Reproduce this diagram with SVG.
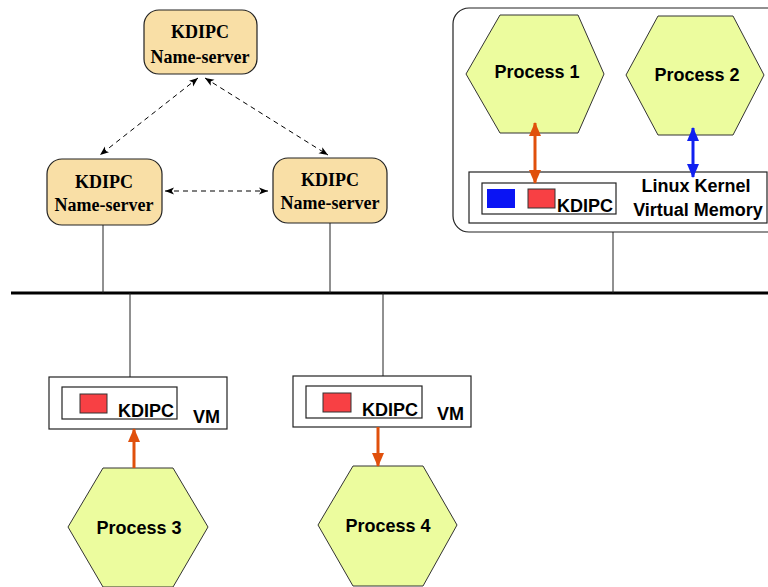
<svg xmlns="http://www.w3.org/2000/svg" width="768" height="587" viewBox="0 0 768 587">
  <defs>
    <style>
      .ns { fill: #f9dfa6; stroke: #222; stroke-width: 1.2; }
      .hex { fill: #ecfc9e; stroke: #333; stroke-width: 1; }
      .box { fill: #fff; stroke: #222; stroke-width: 1.2; }
      .serif { font-family: "Liberation Serif", "Times New Roman", serif; font-weight: bold; font-size: 18px; fill: #000; text-anchor: middle; }
      .sans { font-family: "Liberation Sans", Arial, sans-serif; font-weight: bold; font-size: 18px; fill: #000; }
      .mid { text-anchor: middle; }
      .dash { stroke: #000; stroke-width: 1; fill: none; stroke-dasharray: 5 4; }
      .wire { stroke: #222; stroke-width: 1; fill: none; }
      .orange { stroke: #e0500c; stroke-width: 3; fill: none; }
      .blue { stroke: #1020f0; stroke-width: 3; fill: none; }
    </style>
    <marker id="tipBlack" viewBox="0 0 10 10" refX="10" refY="5" markerWidth="9" markerHeight="9" markerUnits="userSpaceOnUse" orient="auto-start-reverse">
      <path d="M0,1 L10,5 L0,9 L2.5,5 Z" fill="#000"/>
    </marker>
    <marker id="tipOrange" viewBox="0 0 14 12" refX="13" refY="6" markerWidth="14" markerHeight="12" markerUnits="userSpaceOnUse" orient="auto-start-reverse">
      <path d="M0,0 L14,6 L0,12 Z" fill="#e0500c"/>
    </marker>
    <marker id="tipBlue" viewBox="0 0 14 12" refX="13" refY="6" markerWidth="14" markerHeight="12" markerUnits="userSpaceOnUse" orient="auto-start-reverse">
      <path d="M0,0 L14,6 L0,12 Z" fill="#1020f0"/>
    </marker>
  </defs>

  <rect width="768" height="587" fill="#fff"/>

  <!-- host machine enclosure -->
  <g id="host">
    <rect x="453" y="8" width="340" height="224" rx="16" fill="#fff" stroke="#222" stroke-width="1.2"/>
  </g>

  <!-- name servers -->
  <g id="ns-top">
    <rect class="ns" x="144" y="10" width="113" height="64" rx="15"/>
    <text class="serif" x="200" y="38">KDIPC</text>
    <text class="serif" x="200" y="63">Name-server</text>
  </g>
  <g id="ns-left">
    <rect class="ns" x="47" y="159" width="115" height="66" rx="15"/>
    <text class="serif" x="104" y="188">KDIPC</text>
    <text class="serif" x="104" y="211">Name-server</text>
  </g>
  <g id="ns-right">
    <rect class="ns" x="273" y="158" width="114" height="65" rx="15"/>
    <text class="serif" x="330" y="186">KDIPC</text>
    <text class="serif" x="330" y="209">Name-server</text>
  </g>

  <!-- processes on the host -->
  <g id="process1">
    <polygon class="hex" points="466,74 500,15 578,15 604,74 578,133 500,133"/>
    <text class="sans mid" x="537" y="78">Process 1</text>
  </g>
  <g id="process2">
    <polygon class="hex" points="626,75 658,16 733,16 764,75 733,135 658,135"/>
    <text class="sans mid" x="697" y="81">Process 2</text>
  </g>

  <!-- kernel virtual memory -->
  <g id="kernel">
    <rect class="box" x="469" y="172" width="298" height="51"/>
    <rect class="box" x="482" y="183" width="134" height="31"/>
    <rect x="487" y="189" width="28" height="19" fill="#0a14f4"/>
    <rect x="528" y="189" width="27" height="19" fill="#f84044" stroke="#333" stroke-width="1"/>
    <text class="sans" x="557" y="212">KDIPC</text>
    <text class="sans mid" x="696" y="192">Linux Kernel</text>
    <text class="sans mid" x="698" y="216">Virtual Memory</text>
  </g>

  <!-- virtual machines -->
  <g id="vm1">
    <rect class="box" x="49" y="377" width="178" height="52"/>
    <rect class="box" x="62" y="387" width="115" height="32"/>
    <rect x="80" y="394" width="27" height="19" fill="#f84044" stroke="#333" stroke-width="1"/>
    <text class="sans" x="118" y="417">KDIPC</text>
    <text class="sans" x="193" y="423">VM</text>
  </g>
  <g id="vm2">
    <rect class="box" x="293" y="376" width="178" height="51"/>
    <rect class="box" x="306" y="386" width="116" height="32"/>
    <rect x="323" y="393" width="28" height="19" fill="#f84044" stroke="#333" stroke-width="1"/>
    <text class="sans" x="362" y="416">KDIPC</text>
    <text class="sans" x="437" y="420">VM</text>
  </g>

  <!-- guest processes -->
  <g id="process3">
    <polygon class="hex" points="68,527 103,468 173,468 208,527 173,587 103,587"/>
    <text class="sans mid" x="139" y="534">Process 3</text>
  </g>
  <g id="process4">
    <polygon class="hex" points="318,525 353,466 423,466 457,525 423,586 353,586"/>
    <text class="sans mid" x="388" y="532">Process 4</text>
  </g>

  <!-- network bus, drop lines and links -->
  <g id="connectors">
    <line x1="11" y1="293" x2="768" y2="293" stroke="#000" stroke-width="3"/>
    <line class="wire" x1="103" y1="225" x2="103" y2="293"/>
    <line class="wire" x1="330" y1="223" x2="330" y2="293"/>
    <line class="wire" x1="613" y1="232" x2="613" y2="293"/>
    <line class="wire" x1="130" y1="293" x2="130" y2="377"/>
    <line class="wire" x1="383" y1="293" x2="383" y2="376"/>

    <!-- name-server links -->
    <line class="dash" x1="198" y1="78" x2="100" y2="155" marker-start="url(#tipBlack)" marker-end="url(#tipBlack)"/>
    <line class="dash" x1="205" y1="78" x2="328" y2="155" marker-start="url(#tipBlack)" marker-end="url(#tipBlack)"/>
    <line class="dash" x1="165" y1="191" x2="268" y2="191" marker-start="url(#tipBlack)" marker-end="url(#tipBlack)"/>

    <!-- process to memory links -->
    <line class="orange" x1="535" y1="123" x2="535" y2="183" marker-start="url(#tipOrange)" marker-end="url(#tipOrange)"/>
    <line class="blue" x1="693" y1="128" x2="693" y2="177" marker-start="url(#tipBlue)" marker-end="url(#tipBlue)"/>
    <line class="orange" x1="134" y1="468" x2="134" y2="429" marker-end="url(#tipOrange)"/>
    <line class="orange" x1="378" y1="427" x2="378" y2="466" marker-end="url(#tipOrange)"/>
  </g>
</svg>
